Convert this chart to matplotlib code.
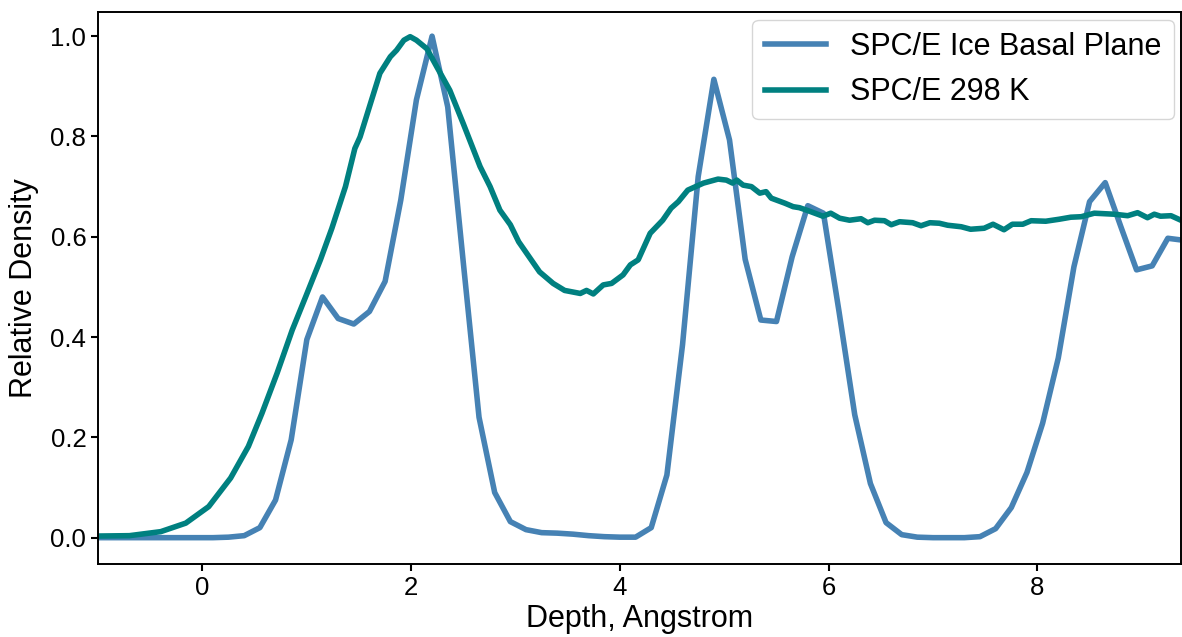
import numpy as np
import matplotlib
matplotlib.use("Agg")
import matplotlib.pyplot as plt

plt.rcParams['font.family'] = ['Liberation Sans', 'DejaVu Sans']

# SPC/E ice basal plane density profile
ice_depth = [-1.1, -0.95, -0.8, -0.65, -0.5, -0.35, -0.2, -0.05, 0.1,
             0.25, 0.4, 0.55, 0.7, 0.85, 1.0, 1.15, 1.3, 1.45, 1.6, 1.75,
             1.9, 2.05, 2.2, 2.35, 2.5, 2.65, 2.8, 2.95, 3.1, 3.25, 3.4,
             3.55, 3.7, 3.85, 4.0, 4.15, 4.3, 4.45, 4.6, 4.75, 4.9, 5.05,
             5.2, 5.35, 5.5, 5.65, 5.8, 5.95, 6.1, 6.25, 6.4, 6.55, 6.7,
             6.85, 7.0, 7.15, 7.3, 7.45, 7.6, 7.75, 7.9, 8.05, 8.2, 8.35,
             8.5, 8.65, 8.8, 8.95, 9.1, 9.25, 9.4]
ice_density = [0, 0, 0, 0, 0, 0, 0, 0, 0,
               0.001, 0.004, 0.02, 0.075, 0.195, 0.395, 0.48, 0.437, 0.426, 0.451, 0.511,
               0.673, 0.873, 1.0, 0.859, 0.547, 0.24, 0.09, 0.032, 0.016, 0.01, 0.009,
               0.007, 0.004, 0.002, 0.001, 0.001, 0.02, 0.125, 0.385, 0.72, 0.914, 0.793,
               0.555, 0.434, 0.431, 0.56, 0.662, 0.647, 0.45, 0.245, 0.108, 0.03, 0.006,
               0.001, 0, 0, 0, 0.002, 0.018, 0.06, 0.13, 0.228, 0.358, 0.54,
               0.67, 0.708, 0.62, 0.534, 0.542, 0.597, 0.593]

# SPC/E liquid water at 298 K
liq_depth = [-1.1, -0.7, -0.4, -0.16, 0.06, 0.27, 0.44, 0.57, 0.715, 0.86,
             0.99, 1.13, 1.24, 1.37, 1.46, 1.51, 1.61, 1.70, 1.80, 1.86,
             1.93, 1.99, 2.05, 2.15, 2.245, 2.37, 2.50, 2.66, 2.756, 2.85,
             2.95, 3.03, 3.14, 3.23, 3.36, 3.47, 3.62, 3.68, 3.745, 3.84,
             3.92, 4.03, 4.10, 4.175, 4.29, 4.41, 4.49, 4.56, 4.65, 4.80,
             4.94, 5.02, 5.08, 5.12, 5.18, 5.26, 5.34, 5.40, 5.45, 5.58,
             5.66, 5.72, 5.79, 5.945, 6.02, 6.105, 6.20, 6.31, 6.375, 6.44,
             6.535, 6.60, 6.68, 6.805, 6.885, 6.97, 7.06, 7.14, 7.27, 7.36,
             7.49, 7.575, 7.68, 7.76, 7.86, 7.94, 8.08, 8.21, 8.32, 8.42,
             8.545, 8.735, 8.865, 8.96, 9.055, 9.12, 9.18, 9.28, 9.375, 9.45]
liq_density = [0.003, 0.004, 0.012, 0.029, 0.062, 0.119, 0.182, 0.248, 0.328, 0.414,
               0.481, 0.554, 0.617, 0.700, 0.776, 0.799, 0.866, 0.926, 0.959, 0.972,
               0.992, 0.999, 0.992, 0.975, 0.939, 0.892, 0.825, 0.740, 0.700, 0.653,
               0.624, 0.590, 0.557, 0.530, 0.507, 0.493, 0.487, 0.493, 0.486, 0.504,
               0.507, 0.524, 0.544, 0.554, 0.607, 0.633, 0.657, 0.670, 0.693, 0.707,
               0.715, 0.713, 0.707, 0.713, 0.703, 0.700, 0.687, 0.690, 0.677, 0.667,
               0.660, 0.658, 0.653, 0.641, 0.647, 0.637, 0.633, 0.636, 0.628, 0.633,
               0.632, 0.624, 0.630, 0.628, 0.622, 0.628, 0.627, 0.623, 0.620, 0.615,
               0.617, 0.625, 0.614, 0.625, 0.625, 0.632, 0.631, 0.635, 0.639, 0.640,
               0.647, 0.645, 0.642, 0.648, 0.638, 0.645, 0.641, 0.642, 0.633, 0.630]

fig = plt.figure(figsize=(11.82, 6.37), dpi=100)
ax = fig.add_axes([0.083, 0.115, 0.9165, 0.866])

ax.plot(ice_depth, ice_density, color='steelblue', lw=4.0, label='SPC/E Ice Basal Plane')
ax.plot(liq_depth, liq_density, color='teal', lw=4.0, label='SPC/E 298 K')

ax.set_xlim(-1, 9.38)
ax.set_ylim(-0.052, 1.048)
ax.set_xticks([0, 2, 4, 6, 8])
ax.set_yticks([0.0, 0.2, 0.4, 0.6, 0.8, 1.0])
ax.tick_params(labelsize=18.5, width=1.5, length=5)
for sp in ax.spines.values():
    sp.set_linewidth(1.4)

ax.set_xlabel('Depth, Angstrom', fontsize=22, labelpad=3)
ax.set_ylabel('Relative Density', fontsize=22, labelpad=8)
ax.legend(loc='upper right', fontsize=22, borderaxespad=0.25)

fig.savefig('out.png', dpi=100)
